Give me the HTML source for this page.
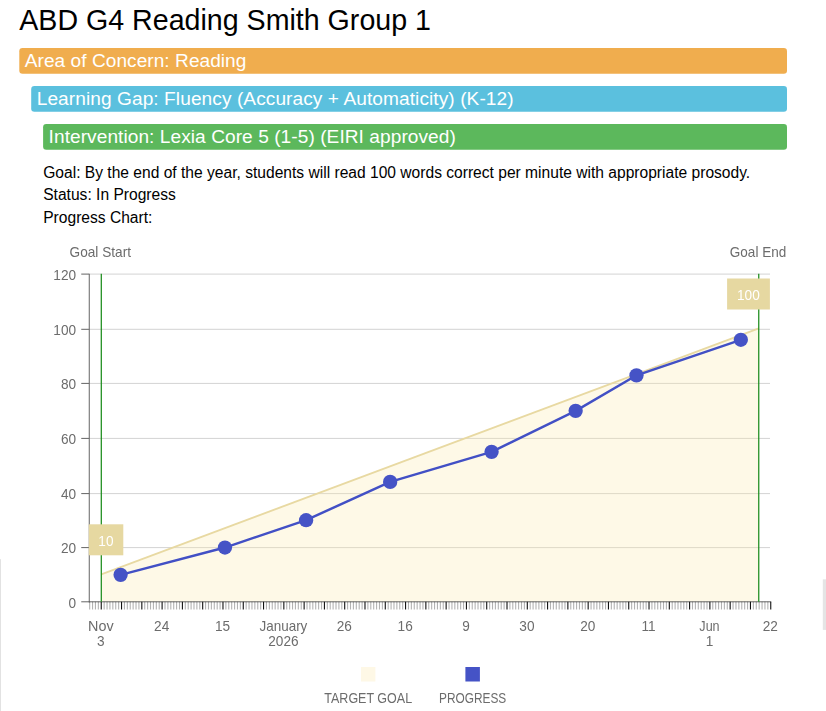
<!DOCTYPE html>
<html><head><meta charset="utf-8"><title>ABD G4 Reading Smith Group 1</title>
<style>
html,body{margin:0;padding:0;background:#fff;}
body{width:826px;height:711px;overflow:hidden;position:relative;font-family:"Liberation Sans",sans-serif;}
svg{display:block;position:absolute;left:0;top:0;font-family:"Liberation Sans",sans-serif;}
#chart{will-change:transform;}
</style></head><body>
<svg id="head" width="826" height="238" viewBox="0 0 826 238">
<rect width="826" height="238" fill="#fff"/>

<text x="19.3" y="29.75" font-size="28.6" fill="#000">ABD G4 Reading Smith Group 1</text>
<rect x="19.3" y="48" width="767.7" height="25.8" rx="3.2" fill="#f0ad4e"/>
<text x="24.8" y="66.6" font-size="19.1" fill="#fff" textLength="221.6">Area of Concern: Reading</text>
<rect x="31.2" y="86" width="755.8" height="25.8" rx="3.2" fill="#5bc0de"/>
<text x="36.7" y="104.6" font-size="19.1" fill="#fff" textLength="476.9">Learning Gap: Fluency (Accuracy + Automaticity) (K-12)</text>
<rect x="43.1" y="124" width="743.9" height="25.8" rx="3.2" fill="#5cb85c"/>
<text x="48.6" y="142.6" font-size="19.1" fill="#fff" textLength="407.2">Intervention: Lexia Core 5 (1-5) (EIRI approved)</text>
<text x="43.2" y="177.7" font-size="15.6" fill="#000">Goal: By the end of the year, students will read 100 words correct per minute with appropriate prosody.</text>
<text x="43.2" y="200.2" font-size="15.6" fill="#000">Status: In Progress</text>
<text x="43.2" y="223.0" font-size="15.6" fill="#000">Progress Chart:</text>
</svg>
<svg id="chart" width="826" height="711" viewBox="0 0 826 711">
<rect x="0" y="559.2" width="1" height="152" fill="#e2e2e2"/>
<rect x="822.8" y="579.3" width="3.2" height="50.6" fill="#e5e5e5"/>
<line x1="89.25" y1="547.6" x2="770" y2="547.6" stroke="#d3d3d3" stroke-width="1"/>
<line x1="89.25" y1="493.6" x2="770" y2="493.6" stroke="#d3d3d3" stroke-width="1"/>
<line x1="89.25" y1="438.4" x2="770" y2="438.4" stroke="#d3d3d3" stroke-width="1"/>
<line x1="89.25" y1="383.4" x2="770" y2="383.4" stroke="#d3d3d3" stroke-width="1"/>
<line x1="89.25" y1="329.3" x2="770" y2="329.3" stroke="#d3d3d3" stroke-width="1"/>
<line x1="89.25" y1="274.1" x2="770" y2="274.1" stroke="#d3d3d3" stroke-width="1"/>
<path d="M101.3 574.9 L758.8 328.9 L758.8 601.8 L101.3 601.8Z" fill="#fbe9a6" fill-opacity="0.27"/>
<path d="M101.3 574.41 L758.8 328.40" stroke="#e8d9a2" stroke-width="1.85" fill="none"/>
<line x1="89.25" y1="273.8" x2="89.25" y2="602.3" stroke="#646464" stroke-width="1"/>
<line x1="88.75" y1="601.8" x2="771.2" y2="601.8" stroke="#646464" stroke-width="1"/>
<line x1="81.25" y1="601.8" x2="89.25" y2="601.8" stroke="#646464" stroke-width="1"/>
<text transform="translate(68.51 608.00) scale(0.9750 1)" font-size="14.0" fill="#6c6c6c">0</text>
<line x1="81.25" y1="547.6" x2="89.25" y2="547.6" stroke="#646464" stroke-width="1"/>
<text transform="translate(60.92 553.00) scale(0.9750 1)" font-size="14.0" fill="#6c6c6c">20</text>
<line x1="81.25" y1="493.6" x2="89.25" y2="493.6" stroke="#646464" stroke-width="1"/>
<text transform="translate(60.92 499.00) scale(0.9750 1)" font-size="14.0" fill="#6c6c6c">40</text>
<line x1="81.25" y1="438.4" x2="89.25" y2="438.4" stroke="#646464" stroke-width="1"/>
<text transform="translate(60.92 444.00) scale(0.9750 1)" font-size="14.0" fill="#6c6c6c">60</text>
<line x1="81.25" y1="383.4" x2="89.25" y2="383.4" stroke="#646464" stroke-width="1"/>
<text transform="translate(60.92 389.00) scale(0.9750 1)" font-size="14.0" fill="#6c6c6c">80</text>
<line x1="81.25" y1="329.3" x2="89.25" y2="329.3" stroke="#646464" stroke-width="1"/>
<text transform="translate(53.33 335.00) scale(0.9750 1)" font-size="14.0" fill="#6c6c6c">100</text>
<line x1="81.25" y1="274.1" x2="89.25" y2="274.1" stroke="#646464" stroke-width="1"/>
<text transform="translate(53.33 280.00) scale(0.9750 1)" font-size="14.0" fill="#6c6c6c">120</text>
<path d="M89.66 601.8V609.4M92.56 601.8V609.4M95.45 601.8V609.4M98.35 601.8V609.4M104.15 601.8V609.4M107.05 601.8V609.4M109.94 601.8V609.4M112.84 601.8V609.4M115.74 601.8V609.4M118.64 601.8V609.4M124.44 601.8V609.4M127.33 601.8V609.4M130.23 601.8V609.4M133.13 601.8V609.4M136.03 601.8V609.4M138.93 601.8V609.4M144.72 601.8V609.4M147.62 601.8V609.4M150.52 601.8V609.4M153.42 601.8V609.4M156.32 601.8V609.4M159.22 601.8V609.4M165.01 601.8V609.4M167.91 601.8V609.4M170.81 601.8V609.4M173.71 601.8V609.4M176.60 601.8V609.4M179.50 601.8V609.4M185.30 601.8V609.4M188.20 601.8V609.4M191.10 601.8V609.4M193.99 601.8V609.4M196.89 601.8V609.4M199.79 601.8V609.4M205.59 601.8V609.4M208.49 601.8V609.4M211.38 601.8V609.4M214.28 601.8V609.4M217.18 601.8V609.4M220.08 601.8V609.4M225.88 601.8V609.4M228.77 601.8V609.4M231.67 601.8V609.4M234.57 601.8V609.4M237.47 601.8V609.4M240.37 601.8V609.4M246.16 601.8V609.4M249.06 601.8V609.4M251.96 601.8V609.4M254.86 601.8V609.4M257.76 601.8V609.4M260.65 601.8V609.4M266.45 601.8V609.4M269.35 601.8V609.4M272.25 601.8V609.4M275.15 601.8V609.4M278.04 601.8V609.4M280.94 601.8V609.4M286.74 601.8V609.4M289.64 601.8V609.4M292.54 601.8V609.4M295.43 601.8V609.4M298.33 601.8V609.4M301.23 601.8V609.4M307.03 601.8V609.4M309.93 601.8V609.4M312.82 601.8V609.4M315.72 601.8V609.4M318.62 601.8V609.4M321.52 601.8V609.4M327.31 601.8V609.4M330.21 601.8V609.4M333.11 601.8V609.4M336.01 601.8V609.4M338.91 601.8V609.4M341.81 601.8V609.4M347.60 601.8V609.4M350.50 601.8V609.4M353.40 601.8V609.4M356.30 601.8V609.4M359.20 601.8V609.4M362.09 601.8V609.4M367.89 601.8V609.4M370.79 601.8V609.4M373.69 601.8V609.4M376.59 601.8V609.4M379.48 601.8V609.4M382.38 601.8V609.4M388.18 601.8V609.4M391.08 601.8V609.4M393.98 601.8V609.4M396.87 601.8V609.4M399.77 601.8V609.4M402.67 601.8V609.4M408.47 601.8V609.4M411.36 601.8V609.4M414.26 601.8V609.4M417.16 601.8V609.4M420.06 601.8V609.4M422.96 601.8V609.4M428.75 601.8V609.4M431.65 601.8V609.4M434.55 601.8V609.4M437.45 601.8V609.4M440.35 601.8V609.4M443.25 601.8V609.4M449.04 601.8V609.4M451.94 601.8V609.4M454.84 601.8V609.4M457.74 601.8V609.4M460.64 601.8V609.4M463.53 601.8V609.4M469.33 601.8V609.4M472.23 601.8V609.4M475.13 601.8V609.4M478.02 601.8V609.4M480.92 601.8V609.4M483.82 601.8V609.4M489.62 601.8V609.4M492.52 601.8V609.4M495.41 601.8V609.4M498.31 601.8V609.4M501.21 601.8V609.4M504.11 601.8V609.4M509.91 601.8V609.4M512.80 601.8V609.4M515.70 601.8V609.4M518.60 601.8V609.4M521.50 601.8V609.4M524.40 601.8V609.4M530.19 601.8V609.4M533.09 601.8V609.4M535.99 601.8V609.4M538.89 601.8V609.4M541.79 601.8V609.4M544.69 601.8V609.4M550.48 601.8V609.4M553.38 601.8V609.4M556.28 601.8V609.4M559.18 601.8V609.4M562.07 601.8V609.4M564.97 601.8V609.4M570.77 601.8V609.4M573.67 601.8V609.4M576.57 601.8V609.4M579.46 601.8V609.4M582.36 601.8V609.4M585.26 601.8V609.4M591.06 601.8V609.4M593.96 601.8V609.4M596.85 601.8V609.4M599.75 601.8V609.4M602.65 601.8V609.4M605.55 601.8V609.4M611.35 601.8V609.4M614.24 601.8V609.4M617.14 601.8V609.4M620.04 601.8V609.4M622.94 601.8V609.4M625.84 601.8V609.4M631.63 601.8V609.4M634.53 601.8V609.4M637.43 601.8V609.4M640.33 601.8V609.4M643.23 601.8V609.4M646.12 601.8V609.4M651.92 601.8V609.4M654.82 601.8V609.4M657.72 601.8V609.4M660.62 601.8V609.4M663.51 601.8V609.4M666.41 601.8V609.4M672.21 601.8V609.4M675.11 601.8V609.4M678.01 601.8V609.4M680.90 601.8V609.4M683.80 601.8V609.4M686.70 601.8V609.4M692.50 601.8V609.4M695.40 601.8V609.4M698.29 601.8V609.4M701.19 601.8V609.4M704.09 601.8V609.4M706.99 601.8V609.4M712.78 601.8V609.4M715.68 601.8V609.4M718.58 601.8V609.4M721.48 601.8V609.4M724.38 601.8V609.4M727.28 601.8V609.4M733.07 601.8V609.4M735.97 601.8V609.4M738.87 601.8V609.4M741.77 601.8V609.4M744.67 601.8V609.4M747.56 601.8V609.4M753.36 601.8V609.4M756.26 601.8V609.4M759.16 601.8V609.4M762.06 601.8V609.4M764.95 601.8V609.4M767.85 601.8V609.4" stroke="#000" stroke-opacity="0.3" stroke-width="1.1" fill="none"/>
<path d="M101.25 601.8V609.4M121.54 601.8V609.4M141.83 601.8V609.4M162.11 601.8V609.4M182.40 601.8V609.4M202.69 601.8V609.4M222.98 601.8V609.4M243.27 601.8V609.4M263.55 601.8V609.4M283.84 601.8V609.4M304.13 601.8V609.4M324.42 601.8V609.4M344.70 601.8V609.4M364.99 601.8V609.4M385.28 601.8V609.4M405.57 601.8V609.4M425.86 601.8V609.4M446.14 601.8V609.4M466.43 601.8V609.4M486.72 601.8V609.4M507.01 601.8V609.4M527.30 601.8V609.4M547.58 601.8V609.4M567.87 601.8V609.4M588.16 601.8V609.4M608.45 601.8V609.4M628.73 601.8V609.4M649.02 601.8V609.4M669.31 601.8V609.4M689.60 601.8V609.4M709.89 601.8V609.4M730.17 601.8V609.4M750.46 601.8V609.4M770.75 601.8V609.4" stroke="#111" stroke-width="1.1" fill="none"/>
<text transform="translate(88.05 631.00) scale(1.0283 1)" font-size="14.0" fill="#6c6c6c">Nov</text>
<text transform="translate(97.05 646.00) scale(0.9750 1)" font-size="14.0" fill="#6c6c6c">3</text>
<text transform="translate(154.12 631.00) scale(0.9750 1)" font-size="14.0" fill="#6c6c6c">24</text>
<text transform="translate(214.99 631.00) scale(0.9750 1)" font-size="14.0" fill="#6c6c6c">15</text>
<text transform="translate(259.49 631.00) scale(0.9617 1)" font-size="14.0" fill="#6c6c6c">January</text>
<text transform="translate(268.26 646.00) scale(0.9750 1)" font-size="14.0" fill="#6c6c6c">2026</text>
<text transform="translate(336.71 631.00) scale(0.9750 1)" font-size="14.0" fill="#6c6c6c">26</text>
<text transform="translate(397.58 631.00) scale(0.9750 1)" font-size="14.0" fill="#6c6c6c">16</text>
<text transform="translate(462.24 631.00) scale(0.9750 1)" font-size="14.0" fill="#6c6c6c">9</text>
<text transform="translate(519.30 631.00) scale(0.9750 1)" font-size="14.0" fill="#6c6c6c">30</text>
<text transform="translate(580.17 631.00) scale(0.9750 1)" font-size="14.0" fill="#6c6c6c">20</text>
<text transform="translate(641.54 631.00) scale(0.9750 1)" font-size="14.0" fill="#6c6c6c">11</text>
<text transform="translate(699.34 631.00) scale(0.8993 1)" font-size="14.0" fill="#6c6c6c">Jun</text>
<text transform="translate(705.69 646.00) scale(0.9750 1)" font-size="14.0" fill="#6c6c6c">1</text>
<text transform="translate(762.76 631.00) scale(0.9750 1)" font-size="14.0" fill="#6c6c6c">22</text>
<line x1="101.30" y1="273.8" x2="101.30" y2="601.8" stroke="#1c8c1c" stroke-width="1.25"/>
<line x1="758.75" y1="273.8" x2="758.75" y2="601.8" stroke="#1c8c1c" stroke-width="1.25"/>
<text transform="translate(69.60 257.00) scale(0.9742 1)" font-size="14.0" fill="#6c6c6c">Goal Start</text>
<text transform="translate(729.80 257.00) scale(0.9679 1)" font-size="14.0" fill="#6c6c6c">Goal End</text>
<rect x="88.8" y="524.3" width="34.5" height="31" fill="#e6d8a1"/>
<text transform="translate(98.31 546.00) scale(0.9750 1)" font-size="14.0" fill="#fff">10</text>
<rect x="727.1" y="278.5" width="42.8" height="31" fill="#e6d8a1"/>
<text transform="translate(737.01 300.00) scale(0.9750 1)" font-size="14.0" fill="#fff">100</text>
<polyline points="120.61,574.87 224.95,547.53 306.10,520.20 390.15,481.93 491.59,451.86 575.64,410.86 636.50,375.32 740.84,339.78" fill="none" stroke="#4250c5" stroke-width="2.4" stroke-linejoin="round"/>
<circle cx="120.61" cy="574.87" r="7.15" fill="#4553c6"/>
<circle cx="224.95" cy="547.53" r="7.15" fill="#4553c6"/>
<circle cx="306.10" cy="520.20" r="7.15" fill="#4553c6"/>
<circle cx="390.15" cy="481.93" r="7.15" fill="#4553c6"/>
<circle cx="491.59" cy="451.86" r="7.15" fill="#4553c6"/>
<circle cx="575.64" cy="410.86" r="7.15" fill="#4553c6"/>
<circle cx="636.50" cy="375.32" r="7.15" fill="#4553c6"/>
<circle cx="740.84" cy="339.78" r="7.15" fill="#4553c6"/>
<rect x="361" y="667" width="14.4" height="14.5" fill="#fef8e6"/>
<rect x="465.4" y="667" width="14.5" height="14.5" fill="#4553c6"/>
<text transform="translate(324.30 703.00) scale(0.8944 1)" font-size="14.0" fill="#6c6c6c">TARGET GOAL</text>
<text transform="translate(439.00 703.00) scale(0.8481 1)" font-size="14.0" fill="#6c6c6c">PROGRESS</text>
</svg></body></html>
